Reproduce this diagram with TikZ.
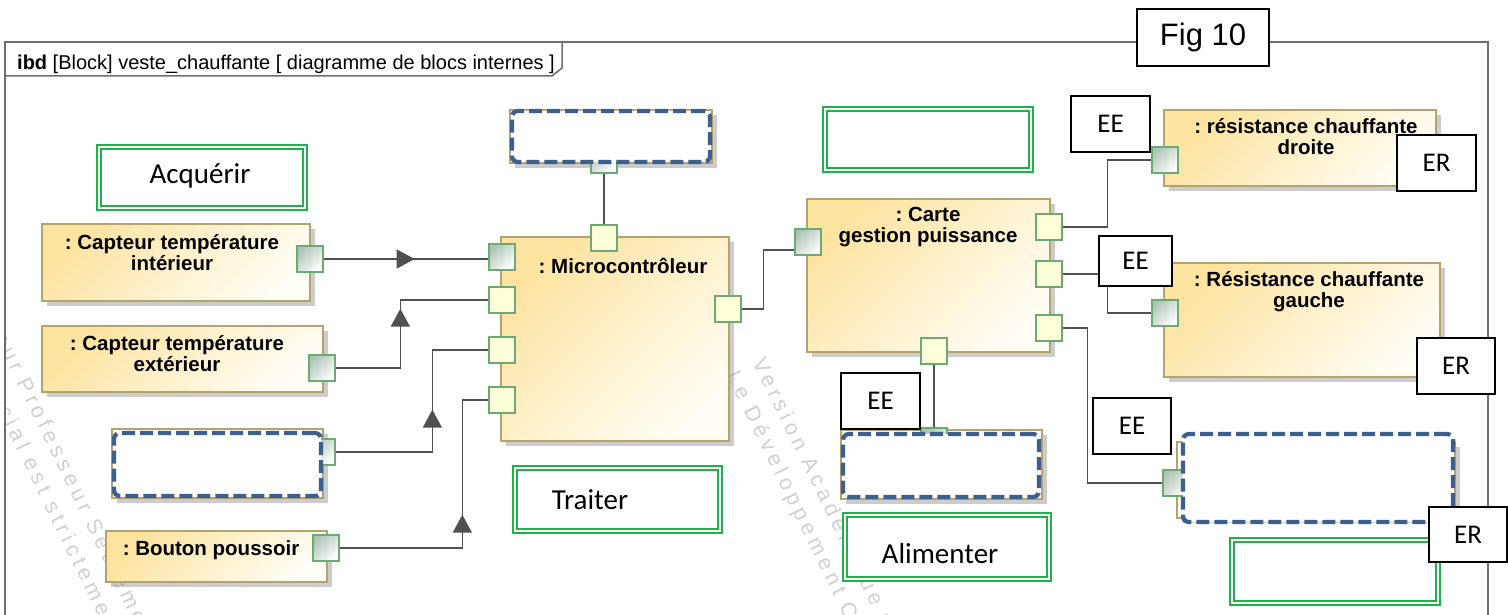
\documentclass[tikz,border=0pt]{standalone}
\usepackage{fontspec}
\setmainfont{Liberation Sans}
\newfontfamily\calfont{Carlito}
\newfontfamily\wmfont[LetterSpace=22]{Liberation Sans}
\usetikzlibrary{shadows,fit,decorations.markings,arrows.meta,calc}
\definecolor{blkA}{HTML}{FDE3A0}
\definecolor{blkB}{HTML}{FFFDF4}
\definecolor{blkline}{HTML}{B3A36F}
\definecolor{portline}{HTML}{6BAA73}
\definecolor{porty}{HTML}{FFFFD8}
\definecolor{portg}{HTML}{AFC4B6}
\definecolor{dblue}{HTML}{3D5F8C}
\definecolor{gboxc}{HTML}{1FB24A}
\definecolor{connc}{HTML}{505050}
\definecolor{framec}{HTML}{6E6E6E}
\definecolor{wmc}{HTML}{D0D0D0}
\tikzset{
 framel/.style={draw=framec, line width=1.5pt},
 box/.style={fit={#1}, inner sep=0pt},
 shadowed/.style={drop shadow={shadow xshift=5pt, shadow yshift=-5pt, fill=black!40, opacity=0.5}},
 block/.style={draw=blkline, line width=1.4pt, top color=blkA, bottom color=blkB, shading angle=45, shadowed},
 hblock/.style={draw=blkline, line width=1.4pt, fill=white, shadowed},
 btitle/.style={anchor=north, align=center, inner sep=0pt, font=\bfseries\fontsize{20.5}{21}\selectfont},
 port/.style={draw=portline, line width=1.3pt, minimum size=26pt, inner sep=0pt, fill=porty},
 gport/.style={draw=portline, line width=1.3pt, minimum size=26pt, inner sep=0pt, top color=portg, bottom color=white, shading angle=45},
 gbox/.style={draw=gboxc, double=white, double distance=2.2pt, line width=1.5pt, fill=white},
 gtext/.style={anchor=base, inner sep=0pt, font=\calfont\fontsize{29}{29}\selectfont},
 dbox/.style={draw=dblue, line width=4.2pt, dash pattern=on 13pt off 5pt, rounded corners=6pt, fill=white},
 tbox/.style={draw=black, line width=1.8pt, fill=white, inner sep=0pt, font=\calfont\fontsize{27}{27}\selectfont},
 conn/.style={draw=connc, line width=1.6pt},
 amark/.style={postaction={decorate}, decoration={markings, mark=at position #1 with {\arrow{Triangle[length=18pt,width=19pt]}}}},
 wm/.style={anchor=base west, rotate=-64, inner sep=0pt, text=wmc, font=\wmfont\fontsize{21.5}{21.5}\selectfont},
}
\begin{document}
\frenchspacing
\begin{tikzpicture}[x=1pt,y=-1pt]
\useasboundingbox (0,0) rectangle (1508,615);
% frame
\draw[framel] (5,615) -- (5,42) -- (1488,42) -- (1488,615);
\draw[framel] (5,76) -- (552,76) -- (562,68) -- (562,42);
\node[anchor=base west, inner sep=0pt, font=\fontsize{20}{20}\selectfont] (hdr) at (17,70) {\textbf{ibd} [Block] veste\_chauffante [ diagramme de blocs internes ]};
% watermarks
\begin{scope}
\clip (6,77) rectangle (1487,615);
\node[wm] (wm1a) at (-138,66) {Version Académique pour Professeur Seulement};
\node[wm] (wm1b) at (-164,79) {Le Développement Commercial est strictement interdit};
\node[wm] (wm2a) at (752,362) {Version Académique pour Professeur Seulement};
\node[wm] (wm2b) at (726,375) {Le Développement Commercial est strictement interdit};
\end{scope}
% blocks
\node[block, box={(42,224) (310,301)}] (cti) {};
\node[block, box={(42,326) (323,392)}] (cte) {};
\node[hblock, box={(112,429) (323,498)}] (hbl) {};
\node[block, box={(106,531) (327,582)}] (bp) {};
\node[block, box={(501,237) (729,441)}] (mc) {};
\node[hblock, box={(510,110) (712,163)}] (hbt) {};
\node[block, box={(807,199) (1050,352)}] (ca) {};
\node[block, box={(1164,110) (1436,186)}] (rd) {};
\node[block, box={(1164,263) (1440,377)}] (rg) {};
\node[hblock, box={(841,430) (1042,499)}] (hbm) {};
\node[hblock, box={(1177,442) (1455,518)}] (hbr) {};
% block titles
\node[btitle] (cti-t) at (172,234) {: Capteur température\\intérieur};
\node[btitle] (cte-t) at (177,335) {: Capteur température\\extérieur};
\node[btitle] (bp-t) at (211,540) {: Bouton poussoir};
\node[btitle] (mc-t) at (623,258) {: Microcontrôleur};
\node[btitle] (ca-t) at (928,207) {: Carte\\gestion puissance};
\node[btitle] (rd-t) at (1306,118) {: résistance chauffante\\droite};
\node[btitle] (rg-t) at (1309,271) {: Résistance chauffante\\gauche};
% green boxes
\node[gbox, box={(99,147) (305,208)}] (gacq) {};
\node[gtext] (tacq) at (200,183) {Acquérir};
\node[gbox, box={(515,468) (720,531)}] (gtr) {};
\node[gtext] (ttr) at (590,509) {Traiter};
\node[gbox, box={(825,109) (1031,170)}] (gtop) {};
\node[gbox, box={(845,515) (1049,579)}] (gal) {};
\node[gtext] (tal) at (940,563) {Alimenter};
\node[gbox, box={(1232,540) (1438,603)}] (gbr) {};
% ports
\node[gport] (pci) at (310,259) {};
\node[gport] (pce) at (322,368) {};
\node[gport] (pld) at (322,452) {};
\node[gport] (pbp) at (326,548) {};
\node[gport] (mp1) at (502,257) {};
\node[port] (mp2) at (502,300) {};
\node[port] (mp3) at (502,350) {};
\node[port] (mp4) at (502,400) {};
\node[port] (mtop) at (604,238) {};
\node[port] (mr) at (728,309) {};
\node[gport] (ptop) at (604,160) {};
\node[gport] (cl) at (808,242) {};
\node[port] (cr1) at (1049,227) {};
\node[port] (cr2) at (1049,274) {};
\node[port] (cr3) at (1049,328) {};
\node[port] (cb) at (934,351) {};
\node[gport] (pbm) at (934,441) {};
\node[gport] (prd) at (1165,160) {};
\node[gport] (prg) at (1165,313) {};
\node[gport] (prr) at (1176,483) {};
% connectors
\draw[conn, amark=91pt] (pci.east) -- (pci.east -| mp1.west);
\draw[conn, amark=124pt] (pce.east) -| ($(mp2.west)+(-88,0)$) -- (mp2.west);
\draw[conn, amark=139pt] (pld.east) -| ($(mp3.west)+(-56,0)$) -- (mp3.west);
\draw[conn, amark=156pt] (pbp.east) -| ($(mp4.west)+(-26,0)$) -- (mp4.west);
\draw[conn] (mtop.north) -- (ptop.south);
\draw[conn] (mr.east) -| ($(cl.west)+(-31,8)$) -- ($(cl.west)+(0,8)$);
\draw[conn] (cr1.east) -| ($(prd.west)+(-44,0)$) -- (prd.west);
\draw[conn] (cr2.east) -| ($(prg.west)+(-44,0)$) -- (prg.west);
\draw[conn] (cr3.east) -| ($(prr.west)+(-75,0)$) -- (prr.west);
\draw[conn] (cb.south) -- (pbm.north);
% dashed boxes
\node[dbox, box={(114,433) (321,496)}] (dl) {};
\node[dbox, box={(512,111) (710,162)}] (dt) {};
\node[dbox, box={(843,434) (1039,497)}] (dbm) {};
\node[dbox, box={(1183,434) (1453,522)}] (dr) {};
% EE / ER / Fig
\node[tbox, minimum width=79pt, minimum height=56pt] (ee1) at (1110.5,124) {EE};
\node[tbox, minimum width=73pt, minimum height=50pt] (ee2) at (1135.5,261) {EE};
\node[tbox, minimum width=79pt, minimum height=56pt] (ee3) at (880.5,401) {EE};
\node[tbox, minimum width=78pt, minimum height=56pt] (ee4) at (1132,426) {EE};
\node[tbox, minimum width=79pt, minimum height=56pt] (er1) at (1436.5,163) {ER};
\node[tbox, minimum width=78pt, minimum height=56pt] (er2) at (1456,366) {ER};
\node[tbox, minimum width=78pt, minimum height=55pt] (er3) at (1468,534.5) {ER};
\node[tbox, minimum width=132pt, minimum height=57pt, font=\fontsize{31}{31}\selectfont] (fig) at (1203,37.5) {Fig 10};
\end{tikzpicture}
\end{document}
